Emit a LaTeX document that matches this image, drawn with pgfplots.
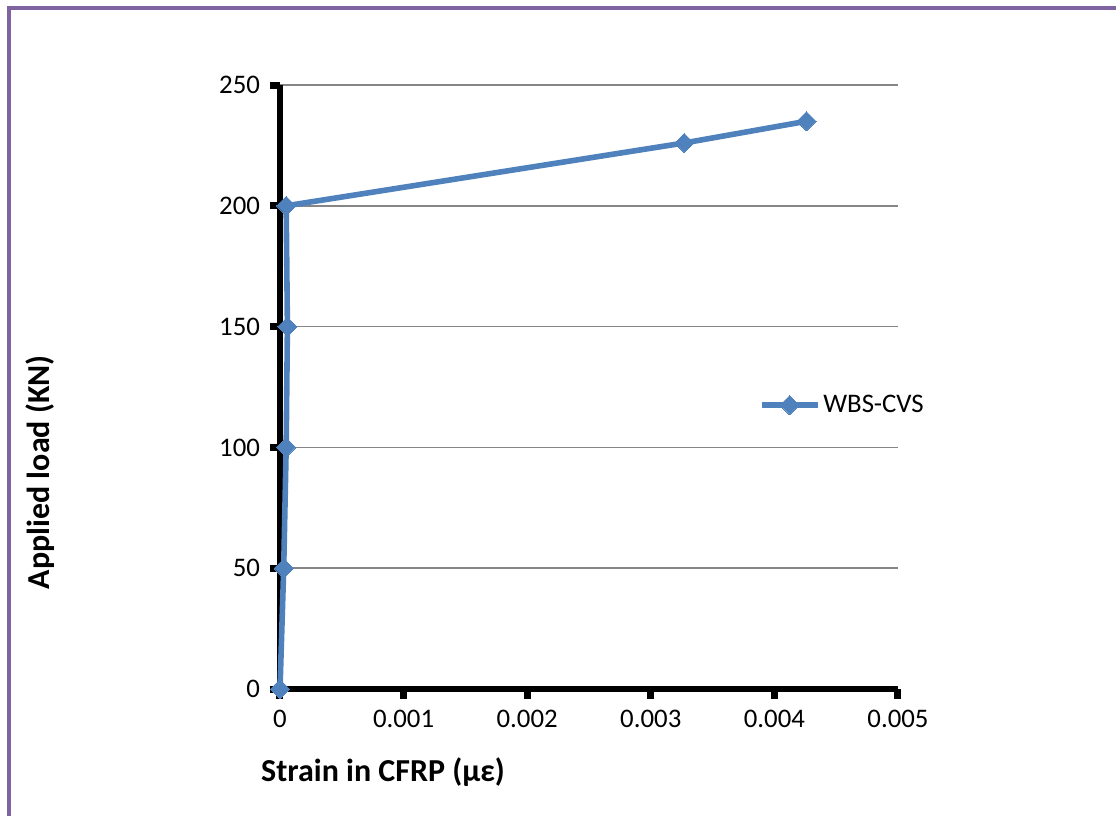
\documentclass[border=0pt]{standalone}
\usepackage{fontspec}
\setmainfont{Carlito}
\usepackage{pgfplots}
\pgfplotsset{compat=1.18}
\definecolor{excelblue}{HTML}{4F81BD}
\definecolor{framepurple}{HTML}{8064A2}
\definecolor{gridgray}{HTML}{868686}
\begin{document}
\begin{tikzpicture}
\path[use as bounding box] (-140pt,-63.5pt) rectangle (418pt,344.5pt);
\draw[framepurple, line width=2pt] (-135.25pt,-63.5pt) -- (-135.25pt,340.25pt) -- (418pt,340.25pt);
\begin{axis}[
  at={(0pt,0pt)}, anchor=south west,
  width=309pt, height=302pt, scale only axis,
  xmin=0, xmax=0.005, ymin=0, ymax=250,
  clip=false,
  axis x line*=bottom, axis y line*=left,
  axis line style={line width=3.2pt, black},
  xtick={0,0.001,0.002,0.003,0.004,0.005},
  xticklabels={0,0.001,0.002,0.003,0.004,0.005},
  ytick={0,50,100,150,200,250},
  scaled x ticks=false,
  tick align=outside,
  major tick length=5pt,
  tick style={line width=3.5pt, black},
  ymajorgrids=true,
  major grid style={gridgray, line width=0.75pt},
  /pgf/number format/assume math mode=true,
  tick label style={font=\fontsize{13.4}{16}\selectfont},
  yticklabel style={xshift=-1.5pt},
  xticklabel style={yshift=-2pt},
  every axis x label/.style={at={(axis description cs:0.1667,-0.1374)}, anchor=center},
  every axis y label/.style={at={(axis description cs:-0.3883,0.359)}, rotate=90, anchor=center},
  label style={font=\fontsize{16}{19}\selectfont\bfseries},
  xlabel={Strain in CFRP (με)},
  ylabel={Applied load (KN)},
  legend style={at={(axis description cs:0.774,0.470)}, anchor=west, draw=none, fill=none, inner sep=0pt,
    font=\fontsize{13.4}{16}\selectfont, legend cell align=left,
    nodes={inner xsep=1.5pt}},
  legend image code/.code={%
    \draw[#1, mark repeat=2, mark phase=2] plot coordinates {(0pt,0pt) (14pt,0pt) (28pt,0pt)};},
]
\addplot[excelblue, line width=2.8pt, mark=square*, mark size=3.4pt,
  mark options={rotate=45, solid, fill=excelblue, draw=excelblue, line width=0pt}]
  coordinates {
    (0,0)
    (0.00003,50)
    (0.00005,100)
    (0.00006,150)
    (0.00005,200)
    (0.00327,226)
    (0.00426,235)
  };
\addlegendentry{WBS-CVS}
\end{axis}
\end{tikzpicture}
\end{document}
